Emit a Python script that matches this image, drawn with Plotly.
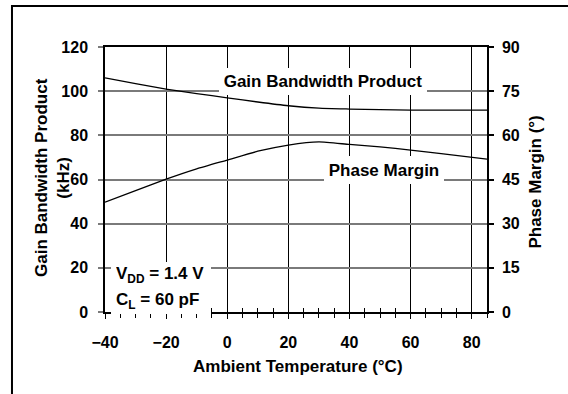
import plotly.graph_objects as go

# Ambient temperature sweep (°C)
temperature = [-40, -30, -20, -10, 0, 10, 20, 30, 40, 50, 60, 70, 85]
# Gain bandwidth product (kHz), left axis
gbw_khz = [106.0, 103.4, 100.9, 98.9, 97.0, 95.1, 93.4, 92.3, 91.9, 91.6, 91.4, 91.4, 91.4]
# Phase margin (degrees), right axis
phase_deg = [37.3, 41.2, 45.1, 48.6, 51.6, 54.6, 56.7, 57.8, 56.9, 56.1, 55.0, 53.8, 51.9]

FONT = "Liberation Sans, Arial, sans-serif"
GRID_GRAY = "#7a7a7a"

fig = go.Figure()
fig.add_trace(go.Scatter(
    x=temperature, y=gbw_khz, mode="lines",
    line=dict(color="black", width=1.3, shape="spline", smoothing=0.5),
    xaxis="x", yaxis="y", showlegend=False, hoverinfo="skip"))
fig.add_trace(go.Scatter(
    x=temperature, y=phase_deg, mode="lines",
    line=dict(color="black", width=1.3, shape="spline", smoothing=0.5),
    xaxis="x2", yaxis="y2", showlegend=False, hoverinfo="skip"))

tickfont = dict(family=FONT, size=16, color="black", weight="bold")
labelfont = dict(family=FONT, size=17, color="black", weight="bold")

fig.update_layout(
    width=568, height=394,
    margin=dict(l=105, r=81, t=47, b=82),
    paper_bgcolor="white", plot_bgcolor="white",
    font=dict(family=FONT, size=16, color="black", weight="bold"),
    xaxis=dict(
        range=[-40, 85], tick0=-40, dtick=20,
        showgrid=True, gridcolor="black", gridwidth=1,
        ticks="outside", ticklen=5, tickcolor="black", tickwidth=1,
        minor=dict(tick0=-40, dtick=5, ticks="outside", ticklen=4,
                   tickcolor="black", tickwidth=1, showgrid=False),
        showline=True, linecolor="black", linewidth=1.5, mirror=True,
        zeroline=False, tickfont=tickfont, ticklabelstandoff=10,
    ),
    # duplicate temperature axis carrying the inward half of the ticks
    xaxis2=dict(
        range=[-40, 85], tick0=-40, dtick=20, overlaying="x", anchor="y2",
        side="bottom", showgrid=False, showline=False, zeroline=False,
        ticks="inside", ticklen=4, tickcolor="black", tickwidth=1,
        minor=dict(tick0=-40, dtick=5, ticks="inside", ticklen=4,
                   tickcolor="black", tickwidth=1, showgrid=False),
        showticklabels=False,
    ),
    yaxis=dict(
        range=[0, 120], tick0=0, dtick=20,
        showgrid=True, gridcolor=GRID_GRAY, gridwidth=1.5,
        ticks="outside", ticklen=5, tickcolor=GRID_GRAY, tickwidth=1.5,
        showline=True, linecolor="black", linewidth=1.5,
        zeroline=False, tickfont=tickfont, ticklabelstandoff=7,
    ),
    yaxis2=dict(
        range=[0, 90], tick0=0, dtick=15, overlaying="y", side="right",
        anchor="x2", showgrid=False,
        ticks="outside", ticklen=5, tickcolor="black", tickwidth=1.5,
        showline=True, linecolor="black", linewidth=1.5,
        zeroline=False, tickfont=tickfont, ticklabelstandoff=5,
    ),
)

# outer frame around the figure
fig.add_shape(type="rect", xref="paper", yref="paper",
              x0=-0.2435, x1=1.35, y0=-0.5, y1=1.1547,
              line=dict(color="black", width=2), fillcolor="rgba(0,0,0,0)")

# curve labels on white boxes
fig.add_annotation(x=31.4, y=104.3, xref="x", yref="y",
                   text="Gain Bandwidth Product", showarrow=False,
                   font=labelfont, bgcolor="white", borderwidth=0,
                   borderpad=3, width=202, height=21)
fig.add_annotation(x=51.4, y=64.1, xref="x", yref="y",
                   text="Phase Margin", showarrow=False,
                   font=labelfont, bgcolor="white", borderwidth=0,
                   borderpad=3, width=114, height=22)

# test conditions
fig.add_annotation(x=-37.9, y=16.6, xref="x", yref="y", xanchor="left",
                   text="V<sub>DD</sub> = 1.4 V", showarrow=False,
                   font=labelfont, bgcolor="white", borderwidth=0,
                   borderpad=5, width=90, height=16, align="left")
fig.add_annotation(x=-37.9, y=5.2, xref="x", yref="y", xanchor="left",
                   text="C<sub>L</sub> = 60 pF", showarrow=False,
                   font=labelfont, bgcolor="white", borderwidth=0,
                   borderpad=5, width=90, height=16, align="left")

# axis titles
fig.add_annotation(x=-0.1374, y=0.5075, xref="paper", yref="paper",
                   xanchor="center", yanchor="middle",
                   text="Gain Bandwidth Product<br>(kHz)", textangle=-90,
                   showarrow=False, font=labelfont)
fig.add_annotation(x=1.128, y=0.4917, xref="paper", yref="paper",
                   xanchor="center", yanchor="middle",
                   text="Phase Margin (°)", textangle=-90,
                   showarrow=False, font=labelfont)
fig.add_annotation(x=0.504, y=-0.2075, xref="paper", yref="paper",
                   xanchor="center", yanchor="middle",
                   text="Ambient Temperature (°C)",
                   showarrow=False, font=labelfont)

fig.write_html("out.html")
